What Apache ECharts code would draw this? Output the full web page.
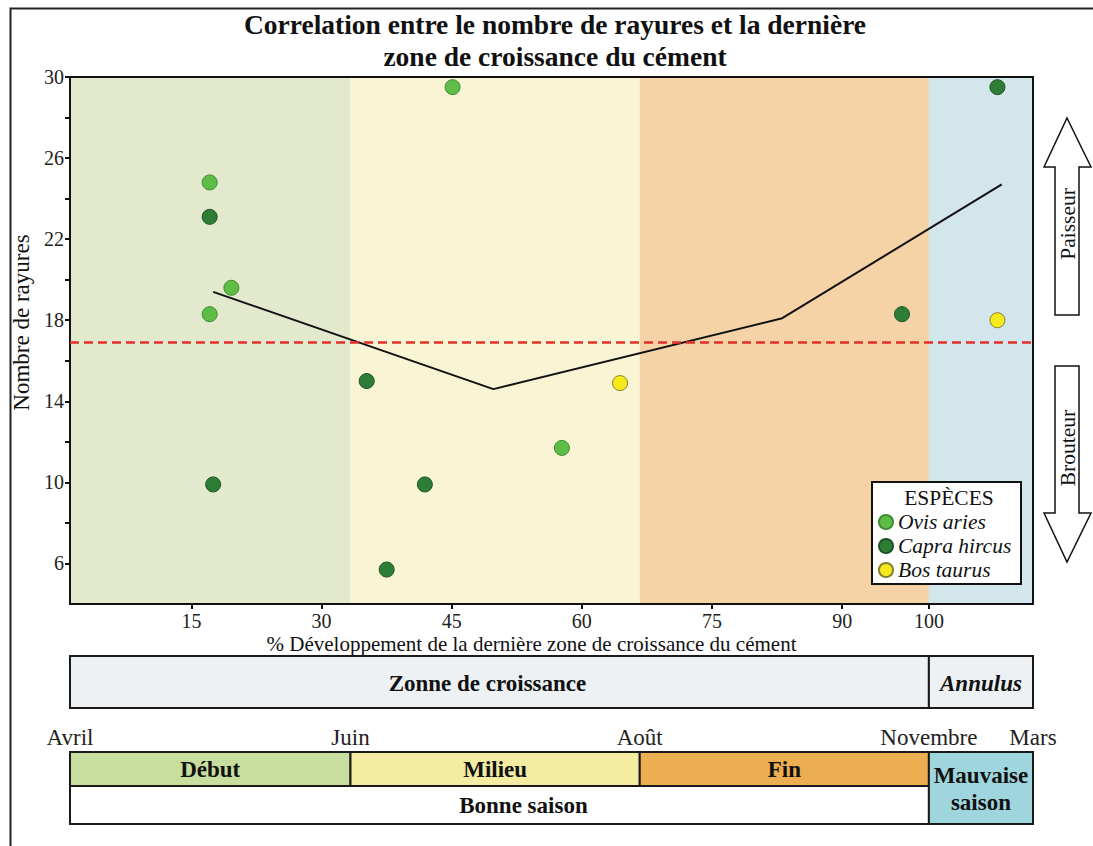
<!DOCTYPE html>
<html>
<head>
<meta charset="utf-8">
<script src="https://cdn.jsdelivr.net/npm/echarts@6/dist/echarts.min.js"></script>
<style>html,body{margin:0;padding:0;background:#fff}#chart{width:1093px;height:846px}</style>
</head>
<body>
<div id="chart"></div>
<script>
// ---------- data ----------
const species = ['Ovis aries', 'Capra hircus', 'Bos taurus'];
const ovisAries = [[17.1, 24.8], [19.6, 19.6], [17.1, 18.3], [45.1, 29.5], [57.7, 11.7]];
const capraHircus = [[17.1, 23.1], [17.5, 9.9], [35.2, 15.0], [41.9, 9.9], [37.5, 5.7], [96.9, 18.3], [107.9, 29.5]];
const bosTaurus = [[64.4, 14.9], [107.9, 18.0]];
const trendLine = [[17.5, 19.4], [49.8, 14.6], [83.1, 18.1], [108.4, 24.7]];
const thresholdY = 16.9;
const xTickValues = [15, 30, 45, 60, 75, 90, 100];
const yTickLabels = [6, 10, 14, 18, 22, 26, 30];
const yTickMarks = [6, 8, 10, 12, 14, 16, 18, 20, 22, 24, 26, 28, 30];
const phases = ['Début', 'Milieu', 'Fin'];
const phaseBounds = [[0, 33.33], [33.33, 66.67], [66.67, 100]];
const annulusBounds = [100, 112];
const growthZones = ['Zonne de croissance', 'Annulus'];
const growthZoneBounds = [[0, 100], annulusBounds];
const seasons = ['Bonne saison', 'Mauvaise\nsaison'];
const seasonBounds = [[0, 100], annulusBounds];
const months = ['Avril', 'Juin', 'Août', 'Novembre', 'Mars'];
const monthValues = [1, 33.33, 66.67, 100, 112];

// ---------- styles / layout ----------
const X_MIN = 1, X_MAX = 112, Y_MIN = 4, Y_MAX = 30;
const FONT = "'Liberation Serif', 'Times New Roman', serif";
const bandColors = ['#e2e9cd', '#f9f4d4', '#f5d3a6', '#d2e6ec'];
const phaseColors = ['#c8de9e', '#f3eca1', '#edae51'];
const zoneColors = ['#eef1f4', '#eef1f4'];
const seasonColors = ['#ffffff', '#9fd5dd'];
const speciesStyle = [
  {color: '#5dbd46', borderColor: '#3d8c31'},
  {color: '#2d7d36', borderColor: '#1d5325'},
  {color: '#f6ea1c', borderColor: '#857f2c'}
];
const BOX_H = 52, SEASON_ROW = 0.472;

const chart = echarts.init(document.getElementById('chart'), null, {renderer: 'svg'});

function clampX(v) { return Math.min(Math.max(v, X_MIN), X_MAX); }

function bandRender(params, api) {
  const cs = params.coordSys;
  const x0 = api.coord([clampX(api.value(0)), Y_MIN])[0];
  const x1 = api.coord([clampX(api.value(1)), Y_MIN])[0];
  return {type: 'rect', shape: {x: x0, y: cs.y, width: x1 - x0, height: cs.height},
    style: {fill: bandColors[params.dataIndex]}, silent: true};
}

function boxRender(names, colors, rowTop, rowBottom, italicIdx, textShift) {
  return function (params, api) {
    const cs = params.coordSys;
    const x0 = api.coord([clampX(api.value(0)), 0])[0];
    const x1 = api.coord([clampX(api.value(1)), 0])[0];
    const y0 = cs.y + cs.height * rowTop, y1 = cs.y + cs.height * rowBottom;
    const i = params.dataIndex;
    const shift = (textShift && textShift[i]) || 0;
    return {type: 'group', children: [
      {type: 'rect', shape: {x: x0, y: y0, width: x1 - x0, height: y1 - y0},
        style: {fill: colors[i], stroke: '#1a1a1a', lineWidth: 2}},
      {type: 'text', x: (x0 + x1) / 2 + shift, y: (y0 + y1) / 2 + 1,
        style: {text: names[i], align: 'center', verticalAlign: 'middle', fill: '#111',
          font: (italicIdx === i ? 'italic ' : '') + 'bold 23px ' + FONT, lineHeight: 27}}
    ]};
  };
}

const option = {
  animation: false,
  backgroundColor: '#ffffff',
  title: [{
    text: 'Correlation entre le nombre de rayures et la dernière\nzone de croissance du cément',
    left: 555, top: 8, textAlign: 'center', padding: 0,
    textStyle: {fontFamily: FONT, fontWeight: 'bold', fontSize: 27.5, lineHeight: 32, color: '#111'}
  }],
  legend: {
    data: species, orient: 'vertical', left: 878, top: 511, padding: 0,
    itemWidth: 14, itemHeight: 14, itemGap: 2, icon: 'circle', z: 20,
    textStyle: {fontFamily: FONT, fontStyle: 'italic', fontSize: 21.5, lineHeight: 21, color: '#111'}
  },
  grid: [
    {left: 70, right: 60, top: 77, bottom: 242},
    {left: 70, right: 60, top: 656, height: BOX_H},
    {left: 70, right: 60, top: 752, height: 72}
  ],
  xAxis: [
    {gridIndex: 0, type: 'value', min: X_MIN, max: X_MAX, position: 'bottom',
      name: '% Développement de la dernière zone de croissance du cément',
      nameLocation: 'middle', nameGap: 29, nameMoveOverlap: false,
      nameTextStyle: {fontFamily: FONT, fontSize: 21, lineHeight: 21, color: '#111', padding: [0, 40, 0, 0]},
      axisLine: {lineStyle: {color: '#111', width: 2}},
      axisTick: {show: true, length: 5, customValues: xTickValues, lineStyle: {color: '#111', width: 2}},
      axisLabel: {customValues: xTickValues, margin: 7, fontFamily: FONT, fontSize: 20, lineHeight: 20, color: '#222'},
      splitLine: {show: false}},
    {gridIndex: 0, type: 'value', min: X_MIN, max: X_MAX, position: 'top',
      axisLine: {lineStyle: {color: '#111', width: 2}}, axisTick: {show: false},
      axisLabel: {show: false}, splitLine: {show: false}},
    {gridIndex: 1, type: 'value', min: X_MIN, max: X_MAX, show: false},
    {gridIndex: 2, type: 'value', min: X_MIN, max: X_MAX, position: 'top',
      axisLine: {show: false},
      axisTick: {show: false},
      axisLabel: {customValues: monthValues, margin: 3, fontFamily: FONT, fontSize: 23, color: '#222',
        formatter: function (v) {
          let best = 0;
          monthValues.forEach(function (m, i) { if (Math.abs(m - v) < Math.abs(monthValues[best] - v)) best = i; });
          return months[best];
        }},
      splitLine: {show: false}}
  ],
  yAxis: [
    {gridIndex: 0, type: 'value', min: Y_MIN, max: Y_MAX,
      name: 'Nombre de rayures', nameLocation: 'middle', nameGap: 37, nameMoveOverlap: false,
      nameTextStyle: {fontFamily: FONT, fontSize: 23, color: '#111', padding: [0, 0, 0, 36]},
      axisLine: {show: true, lineStyle: {color: '#111', width: 2}},
      axisTick: {show: true, length: 5, customValues: yTickMarks, lineStyle: {color: '#111', width: 2}},
      axisLabel: {customValues: yTickLabels, margin: 6, fontFamily: FONT, fontSize: 20, color: '#222'},
      splitLine: {show: false}},
    {gridIndex: 0, type: 'value', min: Y_MIN, max: Y_MAX, position: 'right',
      axisLine: {show: true, lineStyle: {color: '#111', width: 2}}, axisTick: {show: false},
      axisLabel: {show: false}, splitLine: {show: false}},
    {gridIndex: 1, type: 'value', min: 0, max: 1, show: false},
    {gridIndex: 2, type: 'value', min: 0, max: 1, show: false}
  ],
  series: [
    {type: 'custom', name: 'bands', xAxisIndex: 0, yAxisIndex: 0, z: 0, silent: true,
      encode: {x: [0, 1]}, renderItem: bandRender,
      data: phaseBounds.concat([annulusBounds])},
    {type: 'line', name: 'tendance', xAxisIndex: 0, yAxisIndex: 0, z: 3, data: trendLine,
      showSymbol: false, symbol: 'none', silent: true,
      lineStyle: {color: '#111', width: 2},
      markLine: {silent: true, symbol: ['none', 'none'], label: {show: false},
        lineStyle: {color: '#e0302a', width: 2.5, type: [9, 5]},
        data: [{yAxis: thresholdY}]}},
    {type: 'scatter', name: species[0], data: ovisAries, symbolSize: 15, z: 5,
      itemStyle: Object.assign({borderWidth: 1, opacity: 1}, speciesStyle[0])},
    {type: 'scatter', name: species[1], data: capraHircus, symbolSize: 15, z: 5,
      itemStyle: Object.assign({borderWidth: 1, opacity: 1}, speciesStyle[1])},
    {type: 'scatter', name: species[2], data: bosTaurus, symbolSize: 15, z: 5,
      itemStyle: Object.assign({borderWidth: 1, opacity: 1}, speciesStyle[2])},
    {type: 'custom', name: 'zones', xAxisIndex: 2, yAxisIndex: 2, silent: true,
      encode: {x: [0, 1]}, renderItem: boxRender(growthZones, zoneColors, 0, 1, 1, [-12, 0]),
      data: growthZoneBounds},
    {type: 'custom', name: 'phases', xAxisIndex: 3, yAxisIndex: 3, silent: true,
      encode: {x: [0, 1]}, renderItem: boxRender(phases, phaseColors, 0, SEASON_ROW, -1),
      data: phaseBounds},
    {type: 'custom', name: 'bonne', xAxisIndex: 3, yAxisIndex: 3, silent: true,
      encode: {x: [0, 1]}, renderItem: boxRender([seasons[0]], [seasonColors[0]], SEASON_ROW, 1, -1, [24]),
      data: [seasonBounds[0]]},
    {type: 'custom', name: 'mauvaise', xAxisIndex: 3, yAxisIndex: 3, silent: true, z: 4,
      encode: {x: [0, 1]}, renderItem: boxRender([seasons[1]], [seasonColors[1]], 0, 1, -1),
      data: [seasonBounds[1]]}
  ],
  graphic: [
    {type: 'rect', left: 8, top: 6, z: 0, silent: true,
      shape: {x: 0, y: 0, width: 1200, height: 1000},
      style: {fill: 'none', stroke: '#222', lineWidth: 2}},
    {type: 'rect', z: 15, silent: true, shape: {x: 872, y: 482, width: 149, height: 102},
      style: {fill: '#ffffff', stroke: '#111', lineWidth: 2}},
    {type: 'text', z: 16, silent: true, x: 949, y: 498,
      style: {text: 'ESPÈCES', align: 'center', verticalAlign: 'middle', font: '21.5px ' + FONT, fill: '#111'}},
    {type: 'polygon', z: 15, silent: true,
      shape: {points: [[1067, 118], [1091, 167], [1079, 167], [1079, 315], [1055, 315], [1055, 167], [1044, 167]]},
      style: {fill: '#fff', stroke: '#111', lineWidth: 1.5}},
    {type: 'polygon', z: 15, silent: true,
      shape: {points: [[1055, 366], [1079, 366], [1079, 513], [1091, 513], [1067, 562], [1044, 513], [1055, 513]]},
      style: {fill: '#fff', stroke: '#111', lineWidth: 1.5}},
    {type: 'text', z: 16, silent: true, x: 1068, y: 224, rotation: Math.PI / 2,
      style: {text: 'Paisseur', align: 'center', verticalAlign: 'middle', font: '21.5px ' + FONT, fill: '#111'}},
    {type: 'text', z: 16, silent: true, x: 1068, y: 448, rotation: Math.PI / 2,
      style: {text: 'Brouteur', align: 'center', verticalAlign: 'middle', font: '21.5px ' + FONT, fill: '#111'}}
  ]
};
chart.setOption(option);
</script>
</body>
</html>
